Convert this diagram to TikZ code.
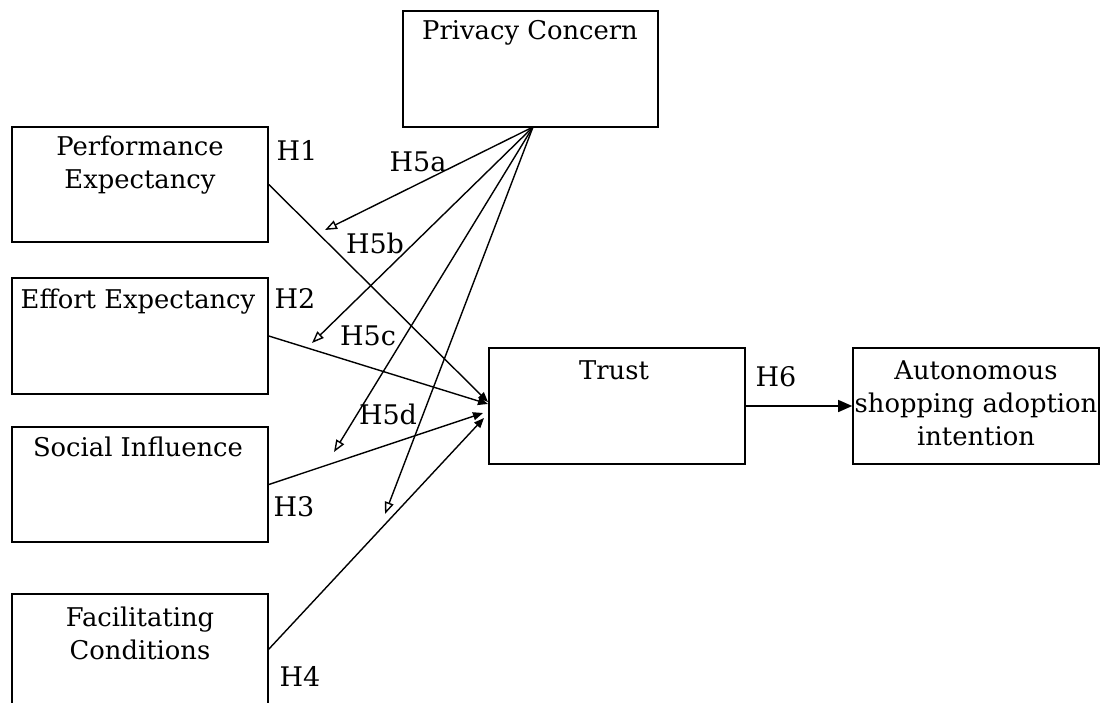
\documentclass[tikz,border=0pt]{standalone}
\usepackage{fontspec}
\setmainfont{DejaVu Serif}
\usetikzlibrary{arrows.meta,calc}
\begin{document}
\begin{tikzpicture}[x=0.5pt,y=-0.5pt,
  box/.style={draw,rectangle,inner sep=0pt,line width=0.8pt},
  txt/.style={inner sep=0pt,align=center,font=\fontsize{12.9}{16.5}\selectfont},
  lbl/.style={inner sep=0pt,font=\fontsize{13.5}{14}\selectfont},
  conn/.style={line width=0.7pt,-{Triangle[length=5pt,width=4pt]}},
  modarrow/.style={line width=0.7pt,-{Triangle[open,length=6pt,width=4.5pt]}},
  outarrow/.style={line width=0.7pt,-{Triangle[length=7pt,width=6pt]}}]
\useasboundingbox (0,0) rectangle (1103,702);
\clip (0,0) rectangle (1103,702);
% boxes
\node[box,minimum width=127.5pt,minimum height=58pt] (pc) at (530.5,69) {};
\node[box,minimum width=128pt,minimum height=57.5pt] (pe) at (140,184.5) {};
\node[box,minimum width=128pt,minimum height=58pt] (ee) at (140,336) {};
\node[box,minimum width=128pt,minimum height=57.5pt] (si) at (140,484.5) {};
\node[box,minimum width=128pt,minimum height=58pt] (fc) at (140,652) {};
\node[box,minimum width=128pt,minimum height=58pt] (tr) at (617,406) {};
\node[box,minimum width=123pt,minimum height=58pt] (ai) at (976,406) {};
% texts
\node[txt] (pct) at (530,33) {Privacy Concern};
\node[txt] (pet) at (140,165) {Performance\\Expectancy};
\node[txt] (eet) at (138,302) {Effort Expectancy};
\node[txt] (sit) at (138,447) {Social Influence};
\node[txt] (fct) at (140,633) {Facilitating\\Conditions};
\node[txt] (trt) at (614,370) {Trust};
\node[txt] (ait) at (976,403) {Autonomous\\shopping adoption\\intention};
% labels
\node[lbl] (h1) at (297,150) {H1};
\node[lbl] (h2) at (295,298) {H2};
\node[lbl] (h3) at (294,507) {H3};
\node[lbl] (h4) at (300,676) {H4};
\node[lbl] (h5a) at (418,162) {H5a};
\node[lbl] (h5b) at (375,243) {H5b};
\node[lbl] (h5c) at (368,336) {H5c};
\node[lbl] (h5d) at (388,414) {H5d};
\node[lbl] (h6) at (776,377) {H6};
% coordinates
\coordinate (pco) at (533,127);
\coordinate (t1) at (488,402);
\coordinate (t2) at (488,404);
\coordinate (t3) at (483,413);
\coordinate (t4) at (484,418);
\coordinate (fce) at (268,650);
\coordinate (m1) at (325,230);
\coordinate (m2) at (312,343);
\coordinate (m3) at (334,452);
\coordinate (m4) at (385,514);
% connectors
\draw[conn] (pe.east) -- (t1);
\draw[conn] (ee.east) -- (t2);
\draw[conn] (si.east) -- (t3);
\draw[conn] (fce) -- (t4);
\draw[modarrow] (pco) -- (m1);
\draw[modarrow] (pco) -- (m2);
\draw[modarrow] (pco) -- (m3);
\draw[modarrow] (pco) -- (m4);
\draw[outarrow] (tr.east) -- (ai.west);
\end{tikzpicture}
\end{document}
